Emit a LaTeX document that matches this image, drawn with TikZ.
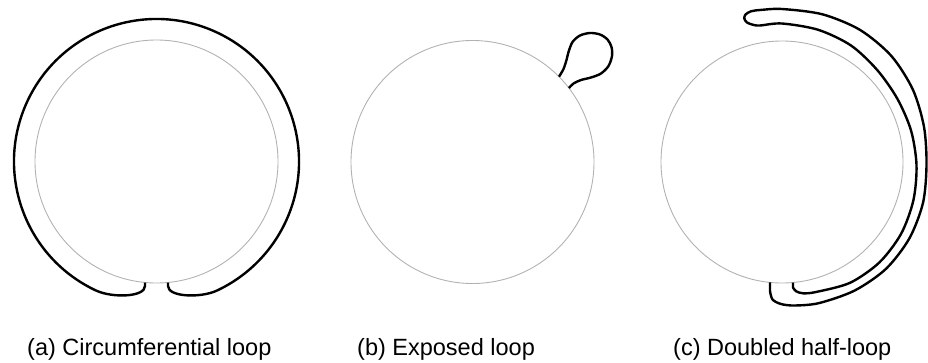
\documentclass[tikz,border=0pt]{standalone}
\usepackage{fontspec}
\setmainfont{Liberation Sans}
\usetikzlibrary{calc}
\begin{document}
\begin{tikzpicture}[x=1pt,y=-1pt,
  eye/.style={draw=black!30, line width=0.9pt},
  strand/.style={draw=black, line width=2.4pt, line join=round},
  caption/.style={anchor=base west, inner sep=0pt, font=\fontsize{23.5}{28}\selectfont}]
\useasboundingbox (0,0) rectangle (928,362);
% centres
\coordinate (ca) at (156.5,161.5);
\coordinate (cb) at (472.5,162);
\coordinate (cc) at (782,162);
\coordinate (co) at (782,165);
% eyes
\draw[eye] (ca) circle[radius=121.5];
\draw[eye] (cb) circle[radius=121.5];
\draw[eye] (cc) circle[radius=121];
% (a) circumferential loop
\draw[strand] (145,282.5) -- (145,286) .. controls (145,297) and (113,298.2) .. ($(ca)+(115:142.5)$)
  arc[start angle=115, end angle=425, radius=142.5]
  .. controls (200.4,298.2) and (168,297) .. (168,286) -- (168,282.5);
% (b) exposed loop
\draw[strand] plot[smooth] coordinates {(559,76.7) (563.5,69) (566.5,60) (568.5,52) (572.5,42) (580,35.5) (590,33) (600,34.5) (607.5,39.5) (611.5,47) (612,56) (608.5,66) (601,73.5) (591,77.5) (581,80) (573.5,83.5) (568.9,88)};
% (c) doubled half-loop
\draw[strand] (770,282.4) -- plot[smooth] coordinates {(770,291) (772.5,299.5) (781,304) (794.3,305.5) (819,303.1) (854.5,290.6) (885.9,268.9) (909.3,238.5) (923,202.8) (926.5,165) (924,126.9) (912.8,89.5) (891.2,55.8) (860,29.9) (822.4,14.3) (782,9) (760.2,10) (751,11.3) (745.5,14.5) (744.3,18.5) (747,22.5) (753,24.8) (759.9,25.5) (782,23.5) (818.2,29.8) (851,45.5) (877.1,69.9) (897.2,98.5) (911,130.4) (916.5,165) (913.4,200.2) (901.1,233.8) (879.4,262.4) (850,282.8) (816,292) (803,293.3) (796,291.2) (793,287.5)} -- (793,282.5);
% captions
\node[caption] (la) at (27,355) {(a) Circumferential loop};
\node[caption] (lb) at (357,355) {(b) Exposed loop};
\node[caption] (lc) at (673,355) {(c) Doubled half-loop};
\end{tikzpicture}
\end{document}
